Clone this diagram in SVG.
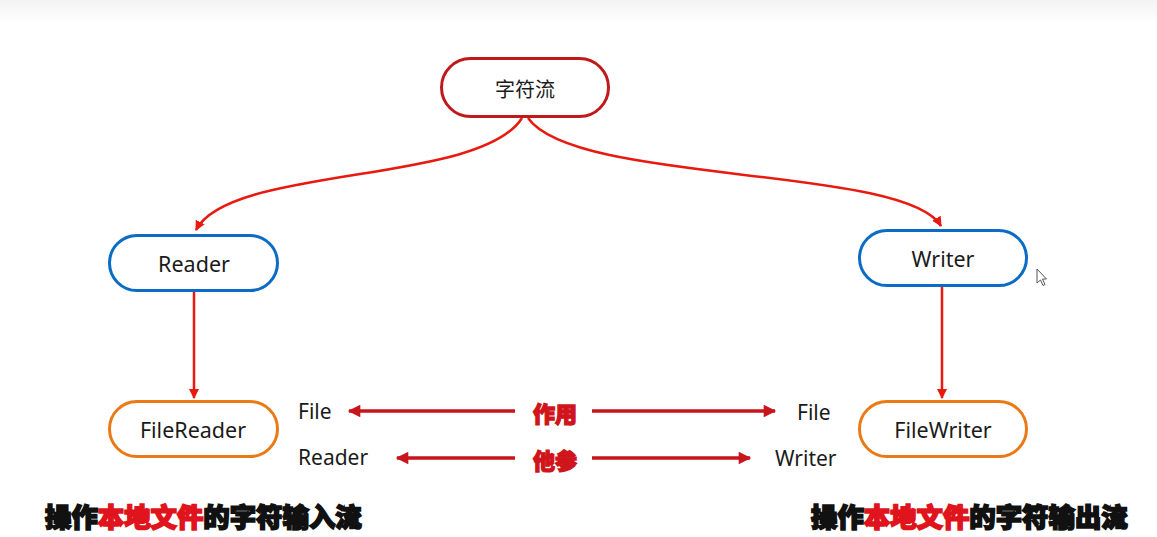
<svg xmlns="http://www.w3.org/2000/svg" width="1157" height="537" viewBox="0 0 1157 537">
  <defs>
    <linearGradient id="topShade" x1="0" y1="0" x2="0" y2="1">
      <stop offset="0" stop-color="#f3f3f3"/>
      <stop offset="1" stop-color="#ffffff"/>
    </linearGradient>
    <marker id="arrowRed" viewBox="0 0 10 10" refX="9" refY="5" markerWidth="4" markerHeight="4" orient="auto-start-reverse" markerUnits="strokeWidth">
      <path d="M0,0 L10,5 L0,10 z" fill="#e8190f"/>
    </marker>
    <marker id="arrowDark" viewBox="0 0 10 10" refX="9" refY="5" markerWidth="4" markerHeight="3.6" orient="auto-start-reverse" markerUnits="strokeWidth">
      <path d="M0,0 L10,5 L0,10 z" fill="#c8141c"/>
    </marker>
  </defs>
  <style>
    .node { fill: #ffffff; stroke-width: 3; }
    .root { stroke: #c0191c; }
    .base { stroke: #0a6cc4; }
    .impl { stroke: #ea7a16; }
    .label { font-family: "Noto Sans", "Noto Sans CJK SC", sans-serif; font-size: 21.5px; fill: #1a1a1a; text-anchor: middle; dominant-baseline: central; }
    .zh { font-family: "Noto Sans CJK SC", sans-serif; font-size: 20px; }
    .side { font-family: "Noto Sans", "Noto Sans CJK SC", sans-serif; font-size: 21px; fill: #1a1a1a; dominant-baseline: central; }
    .conn { fill: none; stroke: #e8190f; stroke-width: 2.5; marker-end: url(#arrowRed); }
    .part { fill: none; stroke: #c8141c; stroke-width: 3.5; marker-end: url(#arrowDark); }
    .tag { font-family: "Noto Sans CJK SC", sans-serif; font-size: 22px; font-weight: 900; fill: #d0141c; stroke: #d0141c; stroke-width: 1.3; text-anchor: middle; dominant-baseline: central; }
    .caption { font-family: "Noto Sans CJK SC", sans-serif; font-size: 26.4px; font-weight: 900; fill: #111111; stroke: #111111; stroke-width: 1.7; dominant-baseline: central; }
    .hot { fill: #e0141c; stroke: #e0141c; }
  </style>

  <rect x="0" y="0" width="1157" height="537" fill="#ffffff"/>
  <rect x="0" y="0" width="1157" height="24" fill="url(#topShade)"/>

  <!-- connectors -->
  <g id="connectors">
    <path class="conn" d="M522,118 C 480,185 230,165 196,230"/>
    <path class="conn" d="M528,118 C 575,185 905,165 941,226"/>
    <path class="conn" d="M194,292 L194,398"/>
    <path class="conn" d="M942,287 L942,398"/>
    <path class="part" d="M515,411 L349,411"/>
    <path class="part" d="M592,411 L775,411"/>
    <path class="part" d="M515,458 L397,458"/>
    <path class="part" d="M592,458 L750,458"/>
  </g>

  <g id="node-char-stream">
    <rect class="node root" x="441.5" y="58.5" width="167" height="58" rx="29"/>
    <text class="label zh" x="525" y="88">字符流</text>
  </g>
  <g id="node-reader">
    <rect class="node base" x="109.5" y="235.5" width="168" height="55" rx="27.5"/>
    <text class="label" x="194" y="263">Reader</text>
  </g>
  <g id="node-writer">
    <rect class="node base" x="859.5" y="230.5" width="167" height="55" rx="27.5"/>
    <text class="label" x="943" y="258">Writer</text>
  </g>
  <g id="node-filereader">
    <rect class="node impl" x="109.5" y="401.5" width="168" height="55" rx="27.5"/>
    <text class="label" x="193" y="429">FileReader</text>
  </g>
  <g id="node-filewriter">
    <rect class="node impl" x="859.5" y="401.5" width="167" height="55" rx="27.5"/>
    <text class="label" x="943" y="429">FileWriter</text>
  </g>

  <!-- name parts -->
  <text class="side" x="298" y="411">File</text>
  <text class="side" x="298" y="457">Reader</text>
  <text class="side" x="797" y="412">File</text>
  <text class="side" x="775" y="458">Writer</text>
  <text class="tag" x="555" y="412">作用</text>
  <text class="tag" x="555" y="459">他参</text>

  <!-- captions -->
  <text class="caption" x="45" y="515">操作<tspan class="hot">本地文件</tspan>的字符输入流</text>
  <text class="caption" x="811" y="515">操作<tspan class="hot">本地文件</tspan>的字符输出流</text>

  <!-- pointer -->
  <path d="M1037,269 L1037,283 L1040.5,280 L1043,285.5 L1045,284.5 L1042.5,279 L1046.5,279 Z" fill="#ffffff" stroke="#555555" stroke-width="1"/>
</svg>
